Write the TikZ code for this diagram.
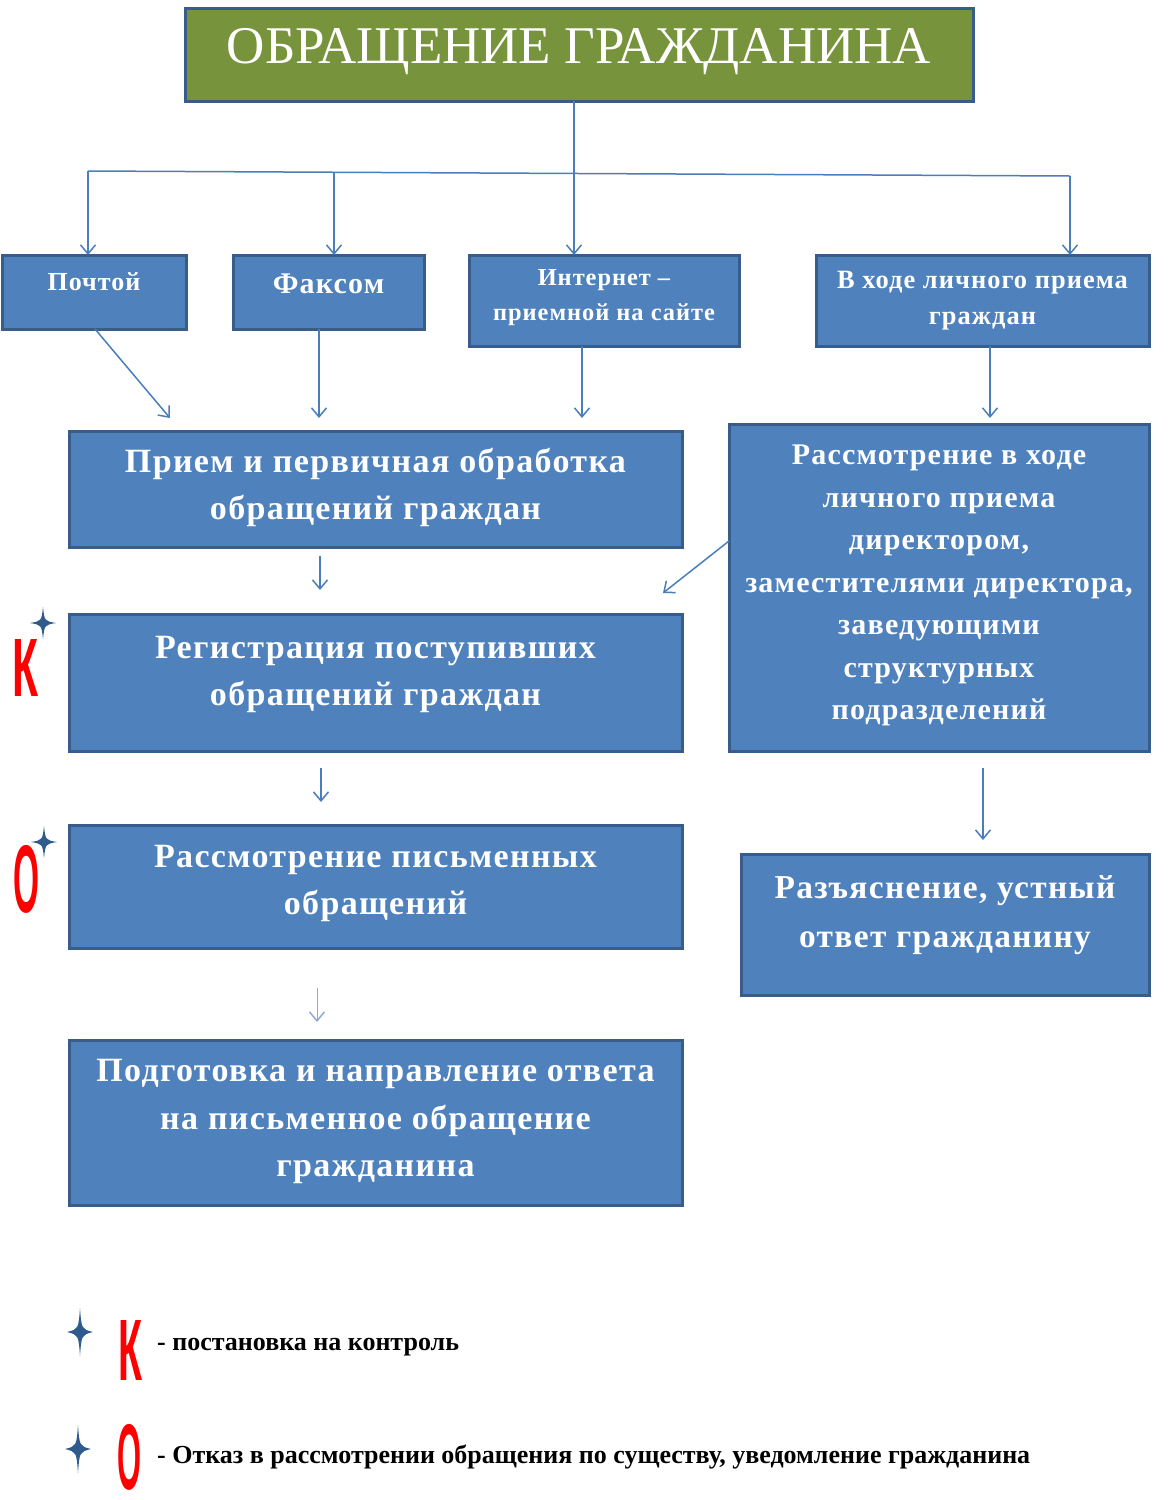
\documentclass[tikz,border=0pt]{standalone}
\usepackage{fontspec}
\setmainfont{Liberation Serif}
\setsansfont{Liberation Sans}
\newfontfamily\spacedfont[LetterSpace=4]{Liberation Serif}
\usepackage{graphicx}
\usetikzlibrary{positioning,arrows.meta}

\definecolor{boxfill}{HTML}{4F81BD}
\definecolor{boxedge}{HTML}{385D8A}
\definecolor{titlefill}{HTML}{77933C}
\definecolor{linkblue}{HTML}{4A7EBB}
\definecolor{paleblue}{HTML}{8EAADB}
\definecolor{starblue}{HTML}{2F5A8C}

\tikzset{
  box/.style={draw=boxedge, fill=boxfill, line width=3pt, anchor=north west,
    inner sep=0pt, outer sep=0pt},
  boxtext/.style={text=white, align=center, inner sep=0pt},
  link/.style={draw=linkblue, line width=1.5pt},
  arr/.style={link, -{Straight Barb[length=9pt,width=15pt,line width=1.5pt]}},
  redmark/.style={text=red, inner sep=0pt, font=\sffamily\bfseries},
  legendtext/.style={anchor=west, inner sep=0pt, font=\bfseries\fontsize{26}{30}\selectfont},
  sparkle/.pic={\fill[starblue] (0,-1) .. controls (0.12,-0.12) .. (1,0)
    .. controls (0.12,0.12) .. (0,1) .. controls (-0.12,0.12) .. (-1,0)
    .. controls (-0.12,-0.12) .. cycle;}
}

\begin{document}
\begin{tikzpicture}[x=1pt, y=-1pt]
  \useasboundingbox (0,0) rectangle (1173,1500);

  % boxes
  \node[box, fill=titlefill, minimum width=788pt, minimum height=93pt] (title) at (185,8) {};
  \node[box, minimum width=184pt, minimum height=74pt] (post) at (2,255) {};
  \node[box, minimum width=191pt, minimum height=74pt] (fax) at (233,255) {};
  \node[box, minimum width=270pt, minimum height=91pt] (net) at (469,255) {};
  \node[box, minimum width=333pt, minimum height=91pt] (pers) at (816,255) {};
  \node[box, minimum width=613pt, minimum height=116pt] (priem) at (69,431) {};
  \node[box, minimum width=613pt, minimum height=137pt] (reg) at (69,614) {};
  \node[box, minimum width=613pt, minimum height=123pt] (pism) at (69,825) {};
  \node[box, minimum width=613pt, minimum height=165pt] (prep) at (69,1040) {};
  \node[box, minimum width=420pt, minimum height=327pt] (rev) at (729,424) {};
  \node[box, minimum width=408pt, minimum height=141pt] (expl) at (741,854) {};

  % texts
  \node[boxtext, font=\fontsize{53}{60}\selectfont] (title-t) at ([yshift=3pt]title.center)
    {ОБРАЩЕНИЕ ГРАЖДАНИНА};
  \node[boxtext, font=\spacedfont\bfseries\fontsize{26}{35}\selectfont] (post-t)
    at ([yshift=10pt]post.center) {Почтой};
  \node[boxtext, font=\spacedfont\bfseries\fontsize{30}{35}\selectfont] (fax-t)
    at ([yshift=8pt]fax.center) {Факсом};
  \node[boxtext, font=\spacedfont\bfseries\fontsize{24.4}{35}\selectfont] (net-t)
    at ([yshift=3pt]net.center) {Интернет –\\приемной на сайте};
  \node[boxtext, font=\spacedfont\bfseries\fontsize{26.4}{36}\selectfont] (pers-t)
    at (pers.center) {В ходе личного приема\\граждан};
  \node[boxtext, font=\spacedfont\bfseries\fontsize{34}{47}\selectfont] (priem-t)
    at ([yshift=2pt]priem.center) {Прием и первичная обработка\\обращений граждан};
  \node[boxtext, font=\spacedfont\bfseries\fontsize{34}{47}\selectfont] (reg-t)
    at ([yshift=8pt]reg.center) {Регистрация поступивших\\обращений граждан};
  \node[boxtext, font=\spacedfont\bfseries\fontsize{34}{47}\selectfont] (pism-t)
    at ([yshift=3pt]pism.center) {Рассмотрение письменных\\обращений};
  \node[boxtext, font=\spacedfont\bfseries\fontsize{34}{47.5}\selectfont] (prep-t)
    at ([yshift=1pt]prep.center) {Подготовка и направление ответа\\на письменное обращение\\гражданина};
  \node[boxtext, font=\spacedfont\bfseries\fontsize{30}{42.5}\selectfont] (rev-t)
    at ([yshift=2pt]rev.center) {Рассмотрение в ходе\\личного приема\\директором,\\заместителями директора,\\заведующими\\структурных\\подразделений};
  \node[boxtext, font=\spacedfont\bfseries\fontsize{33.4}{49}\selectfont] (expl-t)
    at ([yshift=9pt]expl.center) {Разъяснение, устный\\ответ гражданину};

  % connectors
  \coordinate (hub) at (574,171);
  \coordinate (bus-w) at (88,171);
  \coordinate (bus-f) at (334,172);
  \coordinate (bus-e) at (1070,176);
  \draw[link] (title.south -| hub) -- (hub);
  \draw[link] (bus-w) -- (bus-e);
  \draw[arr] (bus-w) -- (bus-w |- post.north);
  \draw[arr] (bus-f) -- (bus-f |- fax.north);
  \draw[arr] (hub) -- (hub |- net.north);
  \draw[arr] (bus-e) -- (bus-e |- pers.north);

  \draw[arr] ([xshift=1pt]post.south) -- ([xshift=-205.5pt,yshift=13pt]priem.north);
  \draw[arr] ([xshift=-9.5pt]fax.south) -- ([xshift=-56.5pt,yshift=13pt]priem.north);
  \draw[arr] ([xshift=-22pt]net.south) -- ([xshift=206.5pt,yshift=13pt]priem.north);
  \draw[arr] ([xshift=7.5pt]pers.south) -- ([xshift=51pt,yshift=6pt]rev.north);
  \draw[arr] ([yshift=46.5pt]rev.west) -- ([xshift=-19pt,yshift=21pt]reg.north east);
  \draw[arr, shorten <=9pt, shorten >=24pt] ([xshift=-55.5pt]priem.south) -- ([xshift=-55.5pt]reg.north);
  \draw[arr, shorten <=17pt, shorten >=23pt] ([xshift=-54.5pt]reg.south) -- ([xshift=-54.5pt]pism.north);
  \draw[arr, draw=paleblue, line width=1pt, shorten <=40pt, shorten >=18pt]
    ([xshift=-58.5pt]pism.south) -- ([xshift=-58.5pt]prep.north);
  \draw[arr, shorten <=17pt, shorten >=14pt] ([xshift=44pt]rev.south) -- ([xshift=38pt]expl.north);

  % marks
  \node[redmark] (mark-k) at (25,668) {\resizebox*{26pt}{57pt}{К}};
  \node[redmark] (mark-o) at (27,879) {\resizebox*{26pt}{68pt}{О}};
  \pic[xscale=13, yscale=16] at (43,623) {sparkle};
  \pic[xscale=13, yscale=16] at (44,842) {sparkle};

  % legend
  \pic[xscale=13, yscale=24] at (80,1332) {sparkle};
  \pic[xscale=13, yscale=24] at (78,1449) {sparkle};
  \node[redmark] (leg-k) at (130,1350) {\resizebox*{24pt}{60pt}{К}};
  \node[redmark] (leg-o) at (130,1457) {\resizebox*{24pt}{66pt}{О}};
  \node[legendtext] (leg-k-t) at (157,1347) {- постановка на контроль};
  \node[legendtext] (leg-o-t) at (157,1457)
    {- Отказ в рассмотрении обращения по существу, уведомление гражданина};
\end{tikzpicture}
\end{document}
